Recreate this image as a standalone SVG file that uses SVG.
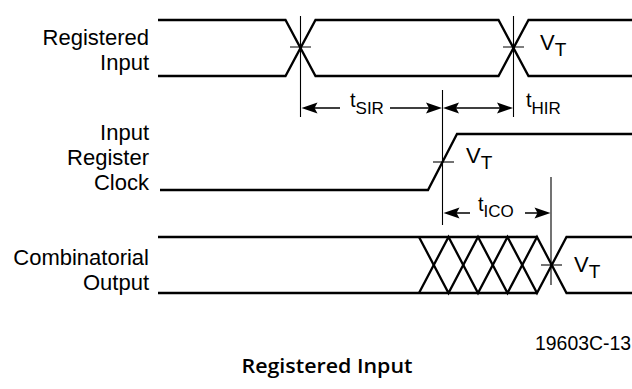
<svg xmlns="http://www.w3.org/2000/svg" width="632" height="389" viewBox="0 0 632 389">
<style>
.w{fill:none;stroke:#000;stroke-width:2.3;stroke-linejoin:miter}
.t{fill:none;stroke:#000;stroke-width:1.1}
.a{fill:none;stroke:#000;stroke-width:1.5}
.lbl{font-family:"Liberation Sans",Arial,sans-serif;font-size:22px;fill:#000}
.sub{font-size:17px}
.tt{font-size:19px}
.title{font-family:"Open Sans","Noto Sans",sans-serif;font-weight:600;font-size:20px;fill:#000}
</style>
<defs>
<path id="ahR" d="M0,0 L-16,-5.5 L-13,0 L-16,5.5 Z" fill="#000"/>
<path id="ahL" d="M0,0 L16,-5.5 L13,0 L16,5.5 Z" fill="#000"/>
</defs>
<rect width="632" height="389" fill="#fff"/>

<g id="registered-input">
<path class="w" d="M158,20 H285.5 L315.5,76 H498.5 L528.5,20 H632"/>
<path class="w" d="M158,76 H285.5 L315.5,20 H498.5 L528.5,76 H632"/>
<text class="lbl" text-anchor="end" x="149" y="45">Registered</text>
<text class="lbl" text-anchor="end" x="149" y="70">Input</text>
<path class="t" d="M290,47 H311 M503,47 H524"/>
<text class="lbl" x="540" y="50">V<tspan class="tt" dy="6">T</tspan></text>
</g>

<g id="input-register-clock">
<path class="w" d="M160,190 H428 L457,134 H632"/>
<text class="lbl" text-anchor="end" x="149" y="140">Input</text>
<text class="lbl" text-anchor="end" x="149" y="165">Register</text>
<text class="lbl" text-anchor="end" x="149" y="190">Clock</text>
<path class="t" d="M433,162 H454"/>
<text class="lbl" x="466" y="163">V<tspan class="tt" dy="6">T</tspan></text>
</g>

<g id="combinatorial-output">
<path class="w" d="M158,237 H537 M158,293 H537"/>
<path class="w" d="M419,237 L448.5,293 L478,237 L507.5,293 L537,237 L566.5,293 H632"/>
<path class="w" d="M419,293 L448.5,237 L478,293 L507.5,237 L537,293 L566.5,237 H632"/>
<text class="lbl" text-anchor="end" x="149" y="265">Combinatorial</text>
<text class="lbl" text-anchor="end" x="149" y="290">Output</text>
<path class="t" d="M541,265 H562"/>
<text class="lbl" x="574" y="272">V<tspan class="tt" dy="6">T</tspan></text>
</g>

<g id="connectors">
<path class="t" d="M300.5,16 V117 M513.5,16 V117 M442.5,90 V225 M551,177 V285"/>
<path class="a" d="M340,108 H310 M390,108 H432 M453,108 H503 M470,213 H452 M525,213 H541"/>
<use href="#ahL" x="301.5" y="108"/>
<use href="#ahR" x="442" y="108"/>
<use href="#ahL" x="443" y="108"/>
<use href="#ahR" x="513" y="108"/>
<use href="#ahL" x="443.5" y="213"/>
<use href="#ahR" x="550.5" y="213"/>
</g>

<g id="labels">
<text class="lbl" x="350" y="107" style="font-size:20px">t<tspan class="sub" dy="7">SIR</tspan></text>
<text class="lbl" x="526" y="107" style="font-size:20px">t<tspan class="sub" dy="7">HIR</tspan></text>
<text class="lbl" x="478" y="211" style="font-size:20px">t<tspan class="sub" dy="6">ICO</tspan></text>
<text class="lbl" text-anchor="end" x="631" y="350" style="font-size:19.4px">19603C-13</text>
<text class="title" x="241.5" y="373" textLength="171" lengthAdjust="spacingAndGlyphs">Registered Input</text>
</g>
</svg>
